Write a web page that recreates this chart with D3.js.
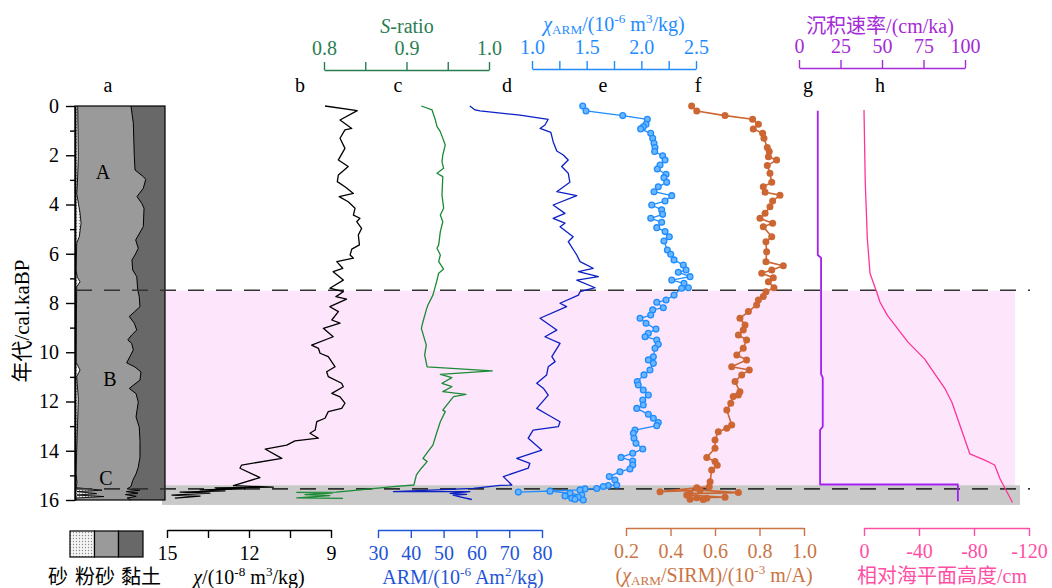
<!DOCTYPE html>
<html>
<head>
<meta charset="utf-8">
<script src="https://cdn.jsdelivr.net/npm/d3@7"></script>
<style>
  body { margin: 0; background: #fff; }
  svg text { font-family: "Liberation Serif", "Times New Roman", "Noto Sans CJK SC", serif; }
</style>
</head>
<body>
<svg id="chart" width="1052" height="588"></svg>
<script>
// ---- core data: [age (cal ka BP), value] ----
const chiData = [[0,9.22],[0.19,8.04],[0.57,8.67],[0.91,8.24],[0.97,8.49],[1.31,8.67],[1.72,8.49],[2.19,8.73],[2.46,8.37],[2.80,8.73],[3.07,8.77],[3.28,8.49],[3.55,8.18],[3.68,8.70],[3.89,8.37],[4.15,8.12],[4.43,8.18],[4.56,7.94],[4.70,8.06],[4.97,7.88],[5.24,8.00],[5.64,7.96],[5.81,8.24],[6.05,8.30],[6.18,8.18],[6.32,8.79],[6.59,8.57],[6.73,8.92],[7.07,8.55],[7.40,9.04],[7.54,8.55],[7.74,8.82],[7.84,8.43],[8.15,9.04],[8.35,8.73],[8.69,8.97],[8.82,8.67],[9.03,9.28],[9.37,8.92],[9.71,9.71],[9.84,9.46],[10.04,9.40],[10.18,9.10],[10.59,8.85],[10.79,9.16],[10.99,9.10],[11.26,8.61],[11.40,8.55],[11.67,8.97],[11.81,8.67],[12.07,8.49],[12.28,8.61],[12.41,9.10],[12.68,9.22],[12.82,9.52],[13.16,9.58],[13.29,9.77],[13.49,9.46],[13.60,10.32],[13.77,10.62],[13.93,11.41],[14.31,10.80],[14.58,12.27],[14.71,12.33],[15.09,11.60],[15.42,12.57],[15.48,11.11],[15.51,13.24],[15.55,12.15],[15.59,13.79],[15.63,12.88],[15.68,14.52],[15.72,13.43],[15.80,14.82],[15.84,13.79],[15.92,14.71]];

const sRatioData = [[0,0.918],[0.16,0.931],[0.57,0.935],[0.84,0.937],[1.04,0.941],[1.58,0.947],[1.99,0.944],[2.26,0.943],[2.53,0.945],[2.73,0.937],[2.87,0.944],[3.61,0.943],[4.15,0.945],[4.43,0.941],[4.70,0.944],[5.10,0.941],[5.64,0.939],[5.78,0.937],[6.05,0.941],[6.32,0.939],[6.62,0.945],[6.79,0.939],[7.07,0.937],[7.68,0.932],[8.08,0.926],[8.28,0.924],[8.76,0.920],[9.03,0.918],[9.71,0.924],[10.11,0.922],[10.59,0.925],[10.76,1.004],[10.90,0.941],[11.03,0.955],[11.26,0.943],[11.40,0.955],[11.60,0.944],[11.71,0.972],[11.80,0.957],[12.14,0.949],[12.35,0.944],[12.41,0.947],[12.82,0.941],[13.23,0.937],[13.77,0.932],[14.04,0.926],[14.31,0.920],[14.44,0.925],[14.71,0.918],[14.98,0.912],[15.39,0.909],[15.46,0.884],[15.59,0.844],[15.68,0.815],[15.69,0.767],[15.72,0.810],[15.78,0.777],[15.82,0.807],[15.91,0.767],[15.93,0.823]];

const armData = [[0,58.0],[0.16,59.6],[0.20,61.1],[0.37,73.3],[0.54,81.9],[0.77,80.9],[0.91,79.4],[1.07,82.7],[1.45,83.4],[1.83,84.5],[1.99,86.5],[2.19,88.0],[2.46,86.0],[2.73,88.0],[3.10,88.5],[3.48,84.5],[3.64,90.6],[4.02,83.4],[4.36,87.0],[4.56,83.4],[4.76,87.0],[4.90,85.5],[5.31,89.5],[5.51,88.0],[6.05,90.6],[6.32,91.6],[6.59,95.6],[6.73,91.1],[6.93,97.2],[7.07,90.6],[7.38,96.2],[7.54,91.6],[7.68,91.1],[8.01,85.5],[8.15,87.5],[8.62,79.4],[9.10,84.5],[9.37,80.9],[9.64,85.5],[10.18,83.0],[10.38,84.0],[10.59,81.9],[10.92,81.4],[11.26,78.4],[11.46,80.4],[11.74,81.9],[12.28,78.4],[12.55,81.9],[12.82,85.5],[13.02,85.0],[13.16,77.3],[13.49,75.8],[13.97,79.9],[14.31,72.3],[14.51,76.3],[14.71,75.8],[15.05,68.2],[15.39,70.8],[15.41,67.2],[15.53,59.1],[15.66,34.7],[15.66,58.0],[15.73,52.0],[15.77,57.0],[15.80,52.9],[15.87,55.0],[15.98,58.6]];

const chiArmData = [[0,1.464],[0.20,1.494],[0.39,1.830],[0.54,2.055],[0.74,2.043],[0.84,2.018],[0.93,1.994],[1.11,2.086],[1.31,2.104],[1.51,2.116],[1.69,2.125],[1.85,2.122],[2.02,2.195],[2.19,2.217],[2.40,2.171],[2.56,2.146],[2.77,2.226],[2.91,2.207],[3.10,2.232],[3.28,2.155],[3.48,2.116],[3.64,2.278],[3.86,2.217],[4.02,2.095],[4.22,2.186],[4.40,2.195],[4.56,2.086],[4.72,2.186],[4.94,2.141],[5.10,2.217],[5.31,2.256],[5.48,2.207],[5.85,2.238],[6.02,2.269],[6.25,2.299],[6.46,2.384],[6.66,2.409],[6.75,2.338],[6.93,2.445],[7.07,2.278],[7.20,2.390],[7.38,2.430],[7.40,2.369],[7.68,2.299],[7.88,2.226],[7.97,2.141],[8.19,2.201],[8.28,2.104],[8.49,2.086],[8.62,1.988],[8.82,2.043],[9.06,2.134],[9.23,2.064],[9.37,2.034],[9.50,2.141],[9.68,2.155],[9.84,2.125],[10.18,2.110],[10.31,2.064],[10.45,2.110],[10.72,2.079],[10.92,2.024],[11.19,1.963],[11.33,1.972],[11.53,2.018],[11.74,2.064],[11.94,2.013],[12.14,2.018],[12.28,1.958],[12.52,2.064],[12.68,2.110],[12.85,2.155],[12.98,2.141],[13.16,1.942],[13.29,1.927],[13.49,1.933],[13.70,1.951],[13.93,2.013],[14.10,1.921],[14.27,1.814],[14.42,1.921],[14.58,1.921],[14.74,1.896],[14.85,1.805],[15.05,1.707],[15.19,1.759],[15.39,1.775],[15.41,1.698],[15.45,1.652],[15.53,1.592],[15.55,1.485],[15.59,1.439],[15.68,0.875],[15.64,1.165],[15.73,1.348],[15.80,1.455],[15.84,1.302],[15.89,1.423],[15.93,1.363],[16.00,1.469],[15.97,1.393]];

const ratioData = [[0,0.495],[0.20,0.518],[0.39,0.645],[0.54,0.769],[0.74,0.795],[0.93,0.772],[1.11,0.814],[1.31,0.820],[1.69,0.835],[1.85,0.844],[2.06,0.840],[2.19,0.877],[2.42,0.835],[2.73,0.847],[3.10,0.855],[3.28,0.817],[3.50,0.825],[3.62,0.892],[3.86,0.859],[4.09,0.847],[4.36,0.825],[4.56,0.802],[4.76,0.859],[4.90,0.817],[5.31,0.855],[5.51,0.829],[5.92,0.832],[6.32,0.829],[6.49,0.907],[6.66,0.855],[6.79,0.810],[6.97,0.862],[7.14,0.840],[7.38,0.865],[7.54,0.829],[7.74,0.817],[7.88,0.795],[8.08,0.787],[8.35,0.750],[8.62,0.712],[8.89,0.735],[9.10,0.727],[9.30,0.705],[9.50,0.742],[9.84,0.727],[10.11,0.698],[10.31,0.742],[10.59,0.675],[10.72,0.754],[10.92,0.720],[11.19,0.690],[11.60,0.712],[11.74,0.705],[11.80,0.682],[12.07,0.671],[12.35,0.653],[12.95,0.675],[13.09,0.653],[13.23,0.615],[13.56,0.600],[13.90,0.600],[14.27,0.563],[14.44,0.600],[14.59,0.610],[14.78,0.585],[15.26,0.578],[15.46,0.574],[15.50,0.518],[15.66,0.353],[15.60,0.533],[15.70,0.705],[15.74,0.488],[15.80,0.473],[15.89,0.645],[15.91,0.518],[15.93,0.563],[15.97,0.488],[15.98,0.547]];

const sedRateData = [[0.19,11.3],[6.05,11.3],[6.17,13.3],[10.89,13.3],[11.03,14.3],[13.02,14.3],[13.16,12.7],[15.37,12.7],[15.37,95.7],[16.05,95.7]];

const seaLevelData = [[0.16,0],[3.08,-0.9],[5.38,-2.4],[6.8,-4.4],[7.55,-9.2],[7.96,-11.6],[8.5,-17],[9.59,-32],[10.27,-44],[11.49,-59],[12.04,-64],[14.13,-77],[14.36,-87],[14.58,-95],[15.15,-99],[16.1,-108]];

// lithology: cumulative percentage boundaries (sand | silt | clay)
const sandBoundary = [[0,3],[2.05,3.7],[3.3,2.5],[3.55,1.9],[4.35,5.6],[4.76,6.7],[5.3,4.8],[5.57,1.9],[6.66,1.1],[6.95,2.5],[7.14,5.6],[7.34,1.9],[10.4,1.1],[10.72,5.6],[10.99,1.9],[11.9,3.7],[14.9,1.1],[15.3,2.2],[15.5,1.1],[15.6,30],[15.66,2.2],[15.74,24],[15.8,2.2],[15.86,32],[15.92,1.1],[16,1.1]];
const siltBoundary = [[0,62.2],[0.7,64.8],[2.05,65.9],[2.6,66.7],[2.87,75.9],[2.98,78.6],[3.34,75.9],[3.68,68.9],[3.95,74.1],[4.15,76.7],[4.9,75.9],[5.44,67.4],[5.78,70.3],[6.05,66.7],[6.25,63.3],[6.66,64.1],[6.93,68.6],[7.47,69.7],[7.74,71.4],[8.15,72.2],[8.35,66.3],[8.55,60.3],[8.82,65.9],[9.1,68.6],[9.3,63.0],[9.5,58.6],[9.64,63.0],[9.91,64.8],[10.43,57.4],[10.6,66.7],[10.8,73.3],[11.13,72.2],[11.47,60.3],[11.68,67.8],[12.02,70.3],[12.63,67.8],[13.04,71.4],[13.58,72.2],[14.26,72.2],[14.67,70.3],[14.94,67.8],[15.21,64.1],[15.45,62.2],[15.55,58],[15.6,72],[15.66,57],[15.72,70],[15.78,56],[15.85,68],[15.92,58],[16,62]];
const unitLabels = [["A",2.7],["B",11.1],["C",15.1]];

// stage boundaries (ka)
const boundaryAges = [7.48, 15.55];
const pinkStage = [7.5, 15.4];
const grayStage = [15.4, 16.2];

// tick values
const ageTicks = d3.range(0, 17, 2);
const ageMinorTicks = d3.range(1, 16, 2);
const sRatioTicks = [0.8, 0.85, 0.9, 0.95, 1.0];
const chiArmTicks = [1.0, 1.25, 1.5, 1.75, 2.0, 2.25, 2.5];
const sedTicks = [0, 25, 50, 75, 100];
const chiTicks = [15, 13.5, 12, 10.5, 9];
const armTicks = [30, 40, 50, 60, 70, 80];
const ratioTicks = [0.2, 0.4, 0.6, 0.8, 1.0];
const seaTicks = [0, -40, -80, -120];
const panelLetters = [["a",108],["b",300],["c",398],["d",507],["e",603],["f",698],["g",808],["h",880]];
const legendNames = ["砂", "粉砂", "黏土"];

// ---- colours ----
const C = {
  chi: "#000000", s: "#1b8a35", sAxis: "#2b7d52", arm: "#0b1fc4", armAxis: "#1f55d6",
  chiArm: "#1e8cff", ratio: "#cc6633", ratioAxis: "#c97545", sed: "#a21ff0", sedAxis: "#a52ad8",
  sea: "#ff3399", seaAxis: "#ff4fa5"
};

const svg = d3.select("#chart");
const y = d3.scaleLinear().domain([0, 16]).range([106, 500]);

const xChi = d3.scaleLinear().domain([15, 9]).range([167, 331]);
const xS = d3.scaleLinear().domain([0.8, 1.0]).range([324, 489]);
const xArm = d3.scaleLinear().domain([30, 80]).range([378, 542]);
const xChiArm = d3.scaleLinear().domain([1.0, 2.5]).range([532, 696]);
const xRatio = d3.scaleLinear().domain([0.2, 1.0]).range([626, 804]);
const xSed = d3.scaleLinear().domain([0, 100]).range([799, 965]);
const xSea = d3.scaleLinear().domain([0, -120]).range([864, 1029]);
const xLith = d3.scaleLinear().domain([0, 100]).range([75, 165]);

// ---- patterns ----
const defs = svg.append("defs");
const pat = defs.append("pattern").attr("id", "sandPat").attr("patternUnits", "userSpaceOnUse")
  .attr("width", 3).attr("height", 3);
pat.append("rect").attr("width", 3).attr("height", 3).attr("fill", "#f4f4f4");
pat.append("circle").attr("cx", 1.5).attr("cy", 1.5).attr("r", 0.65).attr("fill", "#8a8a8a");

// ---- stage shading ----
svg.append("rect").attr("x", 165).attr("y", y(pinkStage[0]))
  .attr("width", 1015 - 165).attr("height", y(pinkStage[1]) - y(pinkStage[0])).attr("fill", "#fde6fb");
svg.append("rect").attr("x", 162).attr("y", y(grayStage[0]))
  .attr("width", 1020 - 162).attr("height", y(grayStage[1]) - y(grayStage[0])).attr("fill", "#c9c9c9");

// ---- lithology column ----
const lith = svg.append("g");
lith.append("rect").attr("x", xLith(0)).attr("y", y(0)).attr("width", xLith(100) - xLith(0))
  .attr("height", y(16) - y(0)).attr("fill", "#9a9a9a");
lith.append("path").datum(siltBoundary)
  .attr("d", d3.area().y(d => y(d[0])).x0(d => xLith(d[1])).x1(xLith(100)))
  .attr("fill", "#686868");
lith.append("path").datum(sandBoundary)
  .attr("d", d3.area().y(d => y(d[0])).x0(xLith(0)).x1(d => xLith(d[1])))
  .attr("fill", "url(#sandPat)");
const lithLine = d3.line().x(d => xLith(d[1])).y(d => y(d[0]));
lith.append("path").datum(siltBoundary).attr("d", lithLine).attr("fill", "none").attr("stroke", "#000").attr("stroke-width", 1);
lith.append("path").datum(sandBoundary).attr("d", lithLine).attr("fill", "none").attr("stroke", "#000").attr("stroke-width", 0.9);
lith.append("rect").attr("x", xLith(0)).attr("y", y(0)).attr("width", xLith(100) - xLith(0))
  .attr("height", y(16) - y(0)).attr("fill", "none").attr("stroke", "#000").attr("stroke-width", 1.2);
lith.selectAll("text.unit").data(unitLabels).join("text").attr("class", "unit")
  .attr("x", (d, i) => [103, 110, 106][i]).attr("y", d => y(d[1]) + 7)
  .attr("text-anchor", "middle").attr("font-size", 20).text(d => d[0]);

// ---- stage boundary dashes ----
svg.selectAll("line.bound").data(boundaryAges).join("line").attr("class", "bound")
  .attr("x1", 76).attr("x2", 1030).attr("y1", d => y(d)).attr("y2", d => y(d))
  .attr("stroke", "#333").attr("stroke-width", 1.6).attr("stroke-dasharray", "16,12");

// ---- curves ----
function curve(data, xs, color, width) {
  svg.append("path").datum(data)
    .attr("d", d3.line().x(d => xs(d[1])).y(d => y(d[0])))
    .attr("fill", "none").attr("stroke", color).attr("stroke-width", width)
    .attr("stroke-linejoin", "round");
}
curve(chiData, xChi, C.chi, 1.3);
curve(sRatioData, xS, C.s, 1.3);
curve(armData, xArm, C.arm, 1.3);
curve(chiArmData, xChiArm, C.chiArm, 1.3);
svg.append("g").selectAll("circle").data(chiArmData).join("circle")
  .attr("cx", d => xChiArm(d[1])).attr("cy", d => y(d[0])).attr("r", 2.9)
  .attr("fill", "#6cb6ff").attr("stroke", C.chiArm).attr("stroke-width", 1.3);
curve(ratioData, xRatio, C.ratio, 1.6);
svg.append("g").selectAll("circle").data(ratioData).join("circle")
  .attr("cx", d => xRatio(d[1])).attr("cy", d => y(d[0])).attr("r", 3.5)
  .attr("fill", C.ratio);
curve(sedRateData, xSed, C.sed, 1.8);
curve(seaLevelData, xSea, C.sea, 1.3);

// ---- axes ----
const serif = '"Liberation Serif","Times New Roman","Noto Sans CJK SC",serif';
function styleAxis(g, color) {
  g.attr("font-family", serif).attr("font-size", 20);
  g.selectAll("path.domain").attr("stroke", color).attr("stroke-width", 1.4);
  g.selectAll(".tick line").attr("stroke", color).attr("stroke-width", 1.4);
  g.selectAll(".tick text").attr("fill", color);
}
function only(labels, fmt) {
  return d => labels.some(v => Math.abs(v - d) < 1e-9) ? fmt(d) : "";
}

// age axis
const ageG = svg.append("g").attr("transform", "translate(75,0)");
ageG.call(d3.axisLeft(y).tickValues(ageTicks).tickSize(9).tickSizeOuter(0).tickPadding(7).tickFormat(d3.format("d")));
styleAxis(ageG, "#000");
const ageMinor = svg.append("g").attr("transform", "translate(75,0)");
ageMinor.call(d3.axisLeft(y).tickValues(ageMinorTicks).tickSize(5).tickSizeOuter(0).tickFormat(""));
styleAxis(ageMinor, "#000");

// top axes
const sG = svg.append("g").attr("transform", "translate(0,70)");
sG.call(d3.axisTop(xS).tickValues(sRatioTicks).tickSize(8).tickSizeOuter(0).tickPadding(7)
  .tickFormat(only([0.8, 0.9, 1.0], d3.format(".1f"))));
styleAxis(sG, C.sAxis);

const caG = svg.append("g").attr("transform", "translate(0,69)");
caG.call(d3.axisTop(xChiArm).tickValues(chiArmTicks).tickSize(8).tickSizeOuter(0).tickPadding(7)
  .tickFormat(only([1.0, 1.5, 2.0, 2.5], d3.format(".1f"))));
styleAxis(caG, C.chiArm);

const sedG = svg.append("g").attr("transform", "translate(0,68)");
sedG.call(d3.axisTop(xSed).tickValues(sedTicks).tickSize(8).tickSizeOuter(0).tickPadding(7).tickFormat(d3.format("d")));
styleAxis(sedG, C.sedAxis);

// bottom axes
const chiG = svg.append("g").attr("transform", "translate(0,530)");
chiG.call(d3.axisBottom(xChi).tickValues(chiTicks).tickSize(8).tickSizeOuter(0).tickPadding(8)
  .tickFormat(only([15, 12, 9], d3.format("d"))));
styleAxis(chiG, "#000");

const armG = svg.append("g").attr("transform", "translate(0,530)");
armG.call(d3.axisBottom(xArm).tickValues(armTicks).tickSize(8).tickSizeOuter(0).tickPadding(8).tickFormat(d3.format("d")));
styleAxis(armG, C.armAxis);

const ratioG = svg.append("g").attr("transform", "translate(0,528)");
ratioG.call(d3.axisBottom(xRatio).tickValues(ratioTicks).tickSize(8).tickSizeOuter(0).tickPadding(8).tickFormat(d3.format(".1f")));
styleAxis(ratioG, C.ratioAxis);

const seaG = svg.append("g").attr("transform", "translate(0,528)");
seaG.call(d3.axisBottom(xSea).tickValues(seaTicks).tickSize(8).tickSizeOuter(0).tickPadding(8).tickFormat(d => String(d)));
styleAxis(seaG, C.seaAxis);

// ---- titles with sub/superscripts ----
function rich(x, yy, segs, color, size, anchor) {
  const t = svg.append("text").attr("x", x).attr("y", yy).attr("fill", color)
    .attr("font-size", size || 20).attr("text-anchor", anchor || "middle");
  let shift = 0;
  segs.forEach(s => {
    const sp = t.append("tspan").text(s.t);
    const target = s.sup ? -8 : (s.sub ? 3 : 0);
    if (target - shift !== 0) sp.attr("dy", target - shift);
    shift = target;
    if (s.sup || s.sub) sp.attr("font-size", (size || 20) * 0.66);
    if (s.it) sp.attr("font-style", "italic");
  });
  return t;
}

rich(407, 33, [{t: "S", it: true}, {t: "-ratio"}], C.sAxis);
rich(614, 31, [{t: "χ", it: true}, {t: "ARM", sub: true}, {t: "/(10"}, {t: "-6", sup: true}, {t: " m"}, {t: "3", sup: true}, {t: "/kg)"}], C.chiArm);
rich(880, 33, [{t: "沉积速率/(cm/ka)"}], C.sedAxis);

rich(249, 584, [{t: "χ", it: true}, {t: "/(10"}, {t: "-8", sup: true}, {t: " m"}, {t: "3", sup: true}, {t: "/kg)"}], "#000");
rich(463, 584, [{t: "ARM/(10"}, {t: "-6", sup: true}, {t: " Am"}, {t: "2", sup: true}, {t: "/kg)"}], C.armAxis);
rich(714, 582, [{t: "("}, {t: "χ", it: true}, {t: "ARM", sub: true}, {t: "/SIRM)/(10"}, {t: "-3", sup: true}, {t: " m/A)"}], C.ratioAxis);
rich(942, 583, [{t: "相对海平面高度/cm"}], C.seaAxis);

// age axis title
svg.append("text").attr("transform", "translate(29,321) rotate(-90)")
  .attr("text-anchor", "middle").attr("font-size", 21).text("年代/cal.kaBP");

// panel letters
svg.selectAll("text.panel").data(panelLetters).join("text").attr("class", "panel")
  .attr("x", d => d[1]).attr("y", 92).attr("text-anchor", "middle").attr("font-size", 20).text(d => d[0]);

// ---- lithology legend ----
const legFills = ["url(#sandPat)", "#9a9a9a", "#686868"];
const legBoxes = [70, 94.5, 118.5, 143];
const legTextX = [48, 75, 121];
const leg = svg.append("g");
legFills.forEach((f, i) => {
  leg.append("rect").attr("x", legBoxes[i]).attr("y", 531).attr("width", legBoxes[i + 1] - legBoxes[i])
    .attr("height", 26).attr("fill", f).attr("stroke", "#000").attr("stroke-width", 1.2);
  leg.append("text").attr("x", legTextX[i]).attr("y", 584).attr("font-size", 20).text(legendNames[i]);
});
</script>
</body>
</html>
